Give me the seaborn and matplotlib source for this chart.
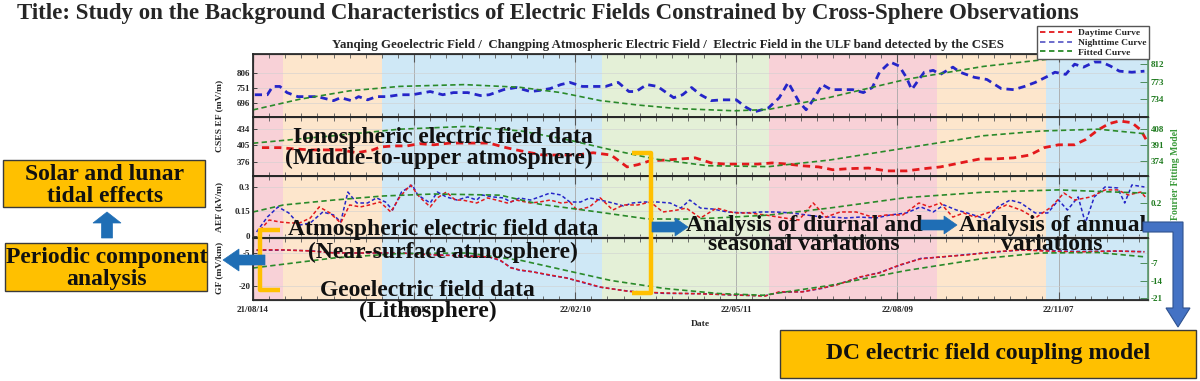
import numpy as np
import matplotlib
matplotlib.use('Agg')
import matplotlib.pyplot as plt
from matplotlib.patches import Rectangle, FancyArrow, Polygon
from matplotlib.lines import Line2D
import seaborn as sns

# ── Data ─────────────────────────────────────────────────────
# x is days since 2021-08-14
tick_days = [0, 90, 180, 270, 360, 450]
tick_labels = ['21/08/14', '21/11/12', '22/02/10', '22/05/11', '22/08/09', '22/11/07']

season_edges = [0, 17, 72, 195, 288, 382, 443, 500]
season_names = ['summer', 'autumn', 'winter', 'spring', 'summer', 'autumn', 'winter']

# CSES EF, nighttime (mV/m)
cses_night_days = [1, 8, 11, 15, 19, 25, 30, 36, 45, 49, 55, 59, 64, 69, 75, 82, 89, 99, 106, 112,
                   120, 127, 132, 140, 147, 155, 160, 166, 172, 177, 184, 190, 197, 204, 210, 214, 220, 226, 235, 240,
                   245, 250, 256, 262, 270, 275, 280, 288, 294, 299, 305, 309, 313, 318, 323, 331, 335, 341, 346, 350,
                   356, 361, 365, 368, 372, 375, 380, 384, 391, 395, 403, 410, 418, 425, 431, 437, 444, 448, 454, 459,
                   464, 470, 474, 479, 484, 491, 498]
cses_night = [726, 726, 757, 757, 734, 719, 719, 719, 704, 715, 704, 719, 707, 719, 719, 726, 726, 738, 726, 734,
              734, 723, 726, 745, 753, 738, 742, 749, 764, 772, 757, 757, 757, 772, 738, 738, 764, 757, 715, 726,
              753, 726, 704, 707, 707, 681, 662, 677, 715, 772, 700, 670, 707, 764, 745, 745, 745, 734, 753, 810,
              848, 833, 791, 745, 783, 810, 817, 802, 829, 810, 791, 783, 749, 745, 757, 772, 795, 810, 802, 840,
              829, 848, 848, 833, 814, 810, 814]

# CSES EF, daytime (mV/m)
cses_day_days = [5, 15, 22, 32, 41, 49, 58, 67, 71, 78, 86, 93, 101, 110, 117, 125, 132, 140, 147, 155,
                 162, 172, 181, 190, 200, 209, 215, 222, 230, 239, 247, 256, 264, 273, 282, 290, 299, 307, 316, 324,
                 333, 344, 354, 365, 375, 384, 395, 406, 414, 425, 434, 442, 450, 459, 465, 472, 478, 484, 491, 496,
                 499]
cses_day = [401, 401, 399, 397, 397, 397, 392, 397, 402, 404, 404, 408, 406, 409, 409, 409, 409, 402, 397, 392,
            388, 388, 388, 392, 388, 367, 371, 378, 379, 381, 383, 374, 372, 372, 372, 374, 372, 369, 367, 362,
            364, 365, 360, 360, 364, 367, 374, 381, 381, 383, 388, 401, 406, 406, 415, 432, 443, 448, 445, 432,
            415]

# AEF (kV/m)
aef_night_days = [2, 8, 14, 20, 26, 32, 39, 45, 49, 53, 58, 64, 69, 74, 78, 83, 89, 92, 99, 103,
                  108, 114, 120, 125, 128, 134, 140, 144, 149, 155, 160, 166, 172, 177, 183, 188, 194, 201, 207, 212,
                  218, 226, 233, 239, 244, 250, 257, 265, 275, 284, 292, 301, 309, 318, 324, 331, 339, 348, 356, 365,
                  373, 380, 386, 393, 399, 406, 410, 416, 423, 429, 437, 444, 450, 455, 461, 465, 470, 476, 483, 487,
                  491, 498]
aef_night = [0.025, 0.116, 0.178, 0.141, 0.067, 0.080, 0.147, 0.129, 0.086, 0.269,
             0.202, 0.202, 0.233, 0.208, 0.159, 0.269, 0.312, 0.251, 0.202, 0.269,
             0.239, 0.220, 0.239, 0.220, 0.251, 0.239, 0.233, 0.208, 0.233, 0.220,
             0.239, 0.263, 0.251, 0.208, 0.208, 0.233, 0.220, 0.202, 0.184, 0.202,
             0.208, 0.208, 0.202, 0.171, 0.220, 0.171, 0.165, 0.147, 0.141, 0.147,
             0.147, 0.141, 0.129, 0.116, 0.116, 0.110, 0.116, 0.110, 0.129, 0.141,
             0.178, 0.147, 0.190, 0.159, 0.141, 0.116, 0.098, 0.178, 0.220, 0.202,
             0.141, 0.141, 0.220, 0.159, 0.239, 0.080, 0.239, 0.300, 0.294, 0.202,
             0.312, 0.300]
aef_day_days = [4, 9, 15, 21, 26, 32, 37, 43, 49, 54, 60, 65, 71, 77, 82, 88, 93, 99, 103, 108,
                113, 117, 125, 131, 136, 142, 147, 155, 160, 166, 172, 177, 181, 188, 194, 201, 207, 215, 222, 229,
                237, 242, 250, 259, 269, 277, 286, 297, 305, 313, 320, 328, 337, 346, 354, 363, 372, 378, 384, 391,
                397, 403, 412, 421, 429, 437, 446, 453, 459, 468, 476, 483, 489, 496, 499]
aef_day = [0.037, 0.098, 0.086, 0.080, 0.080, 0.110, 0.178, 0.141, 0.080, 0.190,
           0.178, 0.190, 0.208, 0.147, 0.239, 0.312, 0.239, 0.178, 0.233, 0.269,
           0.220, 0.220, 0.202, 0.233, 0.220, 0.202, 0.220, 0.202, 0.208, 0.220,
           0.202, 0.208, 0.159, 0.178, 0.233, 0.159, 0.190, 0.190, 0.208, 0.147,
           0.159, 0.171, 0.110, 0.171, 0.141, 0.141, 0.129, 0.110, 0.098, 0.202,
           0.116, 0.147, 0.147, 0.116, 0.129, 0.129, 0.202, 0.178, 0.202, 0.116,
           0.141, 0.116, 0.147, 0.190, 0.159, 0.110, 0.178, 0.263, 0.220, 0.239,
           0.282, 0.282, 0.251, 0.269, 0.233]

# GF (mV/km)
gf_days = [2, 17, 32, 45, 64, 82, 101, 120, 132, 138, 144, 149, 156, 166, 175, 184, 194, 210, 230, 250,
           270, 286, 294, 307, 318, 326, 339, 350, 361, 373, 384, 399, 414, 429, 442, 461, 483, 498]
gf_day = [-3.6, -3.6, -4.1, -5.0, -5.0, -5.0, -5.9, -6.4, -6.8, -8.2, -11.8, -12.7, -13.6, -15.0, -16.4, -18.2,
          -20.5, -22.5, -23.2, -23.6, -24.1, -24.6, -22.7, -22.7, -20.9, -19.6, -15.9, -14.1, -10.5, -7.7,
          -6.8, -5.9, -4.5, -3.6, -4.1, -4.5, -4.1, -4.5]
gf_night = [-3.8, -3.7, -4.0, -4.9, -5.1, -5.0, -5.8, -6.3, -6.9, -8.4, -11.6, -12.9, -13.5, -15.2, -16.3, -18.4,
            -20.6, -22.4, -23.4, -23.5, -24.2, -24.5, -22.9, -22.6, -21.1, -19.4, -16.1, -13.9, -10.7, -7.5,
            -6.9, -5.7, -4.6, -3.7, -3.9, -4.3, -4.2, -4.4]

# Fourier fitted curves (right axes)
fit_cses_n_days = [0, 26, 54, 82, 118, 149, 172, 194, 215, 237, 269, 288, 322, 365, 408, 450, 475, 499]
fit_cses_n = [709, 733, 752, 762, 766, 760, 748, 730, 720, 712, 707, 710, 737, 778, 807, 826, 829, 823]
fit_cses_d_days = [0, 45, 82, 120, 150, 175, 200, 225, 254, 288, 322, 365, 408, 440, 472, 499]
fit_cses_d = [393, 401, 408, 411, 406, 397, 386, 376, 369, 368, 375, 388, 401, 406, 408, 403]
fit_aef_days = [0, 17, 45, 73, 101, 138, 160, 194, 220, 240, 258, 288, 322, 365, 408, 450, 499]
fit_aef = [0.147, 0.190, 0.220, 0.245, 0.257, 0.250, 0.195, 0.145, 0.105, 0.103, 0.110, 0.128, 0.171, 0.235,
           0.268, 0.282, 0.262]
fit_gf_days = [0, 45, 82, 120, 150, 175, 200, 230, 260, 285, 322, 365, 408, 440, 472, 499]
fit_gf = [-9.0, -5.0, -3.2, -3.0, -6.0, -10.0, -14.0, -17.2, -19.2, -19.9, -16.0, -10.0, -5.2, -3.0, -2.8, -4.6]

# ── Style ────────────────────────────────────────────────────
sns.set_theme(style='white')
plt.rcParams['font.family'] = ['Liberation Serif', 'DejaVu Serif']
plt.rcParams['font.weight'] = 'bold'

RED = '#E3191C'
BLUE = '#2525C8'
GREEN = '#2A8A2A'
RGREEN = '#1E7A1E'
SEASON_COLORS = {'summer': '#F8D1D7', 'autumn': '#FDE6CC', 'winter': '#CFE8F6', 'spring': '#E4F0D7'}
ORANGE = '#FFC000'
ARROW = '#1F6EB5'

W, H = 1200, 381
fig = plt.figure(figsize=(12, 3.81), dpi=100)


def px_box(top, bottom, left=253, right=1148):
    return [left / W, 1 - bottom / H, (right - left) / W, (bottom - top) / H]


edges = [54, 117, 176, 238, 300]
axes = [fig.add_axes(px_box(edges[i], edges[i + 1])) for i in range(4)]
twins = [ax.twinx() for ax in axes]

left_lims = [(643, 878), (351, 455), (-0.012, 0.367), (-26.4, 1.8)]
left_ticks = [[696, 751, 806], [376, 405, 434], [0, 0.15, 0.3], [-20, -5]]
left_tlabels = [['696', '751', '806'], ['376', '405', '434'], ['0', '0.15', '0.3'], ['-20', '-5']]
right_lims = [(693, 835), (358, 421), (-0.012, 0.367), (-21.8, 3)]
right_ticks = [[734, 773, 812], [374, 391, 408], [0.2], [-21, -14, -7]]
right_tlabels = [['734', '773', '812'], ['374', '391', '408'], ['0.2'], ['-21', '-14', '-7']]

thick = dict(linewidth=2.0, linestyle=(0, (2.6, 1.8)))
thin = dict(linewidth=1.1, linestyle=(0, (2.4, 1.6)))
fitk = dict(linewidth=1.2, linestyle=(0, (3.2, 2.0)))

# — Panel curves ————————————————————————————————
sns.lineplot(x=cses_night_days, y=cses_night, ax=axes[0], color=BLUE, **thick)
sns.lineplot(x=cses_day_days, y=cses_day, ax=axes[1], color=RED, **thick)
sns.lineplot(x=aef_night_days, y=aef_night, ax=axes[2], color=BLUE, **thin)
sns.lineplot(x=aef_day_days, y=aef_day, ax=axes[2], color=RED, **thin)
sns.lineplot(x=gf_days, y=gf_night, ax=axes[3], color=BLUE, **thin)
sns.lineplot(x=gf_days, y=gf_day, ax=axes[3], color=RED, **thin)

sns.lineplot(x=fit_cses_n_days, y=fit_cses_n, ax=twins[0], color=GREEN, **fitk)
sns.lineplot(x=fit_cses_d_days, y=fit_cses_d, ax=twins[1], color=GREEN, **fitk)
sns.lineplot(x=fit_aef_days, y=fit_aef, ax=twins[2], color=GREEN, **fitk)
sns.lineplot(x=fit_gf_days, y=fit_gf, ax=twins[3], color=GREEN, **fitk)

for i, (ax, tw) in enumerate(zip(axes, twins)):
    for s in range(len(season_names)):
        ax.axvspan(season_edges[s], season_edges[s + 1], color=SEASON_COLORS[season_names[s]],
                   lw=0, zorder=0)
    ax.set_xlim(0, 500)
    ax.set_ylim(*left_lims[i])
    ax.set_yticks(left_ticks[i])
    ax.set_yticklabels(left_tlabels[i], fontsize=6.5, fontweight='bold')
    ax.set_xticks(tick_days)
    ax.set_xticks(np.arange(0, 501, 9), minor=True)
    ax.set_xticklabels(tick_labels if i == 3 else [], fontsize=6.5, fontweight='bold')
    ax.tick_params(axis='x', which='major', direction='in', length=6, width=0.8, color='#555555',
                   top=True, bottom=True, pad=4)
    ax.tick_params(axis='x', which='minor', direction='in', length=3, width=0.6, color='#555555',
                   top=True, bottom=True)
    ax.tick_params(axis='y', direction='in', length=3, width=0.6, left=True, pad=2)
    ax.grid(axis='x', which='major', color='#A8A8A8', lw=0.6)
    ax.grid(axis='y', color='#D0D0D0', lw=0.4)
    ax.set_axisbelow(True)
    for sp in ax.spines.values():
        sp.set_color('#6A6A6A')
        sp.set_linewidth(0.9)

    tw.set_xlim(0, 500)
    tw.set_ylim(*right_lims[i])
    tw.set_yticks(right_ticks[i])
    tw.set_yticklabels(right_tlabels[i], fontsize=6.5, fontweight='bold', color=RGREEN)
    tw.tick_params(axis='y', direction='in', length=6, width=0.7, color='#4C8C5C', pad=2)
    tw.spines['right'].set_color('#5E9C6E')
    tw.spines['right'].set_linewidth(1.2)
    tw.grid(False)
    for ax_ in (ax, tw):
        ax_.set_xlabel('')
        ax_.set_ylabel('')

# ── Overlay in pixel coordinates ─────────────────────────────
ov = fig.add_axes([0, 0, 1, 1])
ov.set_xlim(0, W)
ov.set_ylim(H, 0)
ov.axis('off')

ov.text(17, 13, 'Title: Study on the Background Characteristics of Electric Fields '
        'Constrained by Cross-Sphere Observations', ha='left', va='center',
        fontsize=16.5, fontweight='bold')
ov.text(668, 45, 'Yanqing Geoelectric Field /  Changping Atmospheric Electric Field /  '
        'Electric Field in the ULF band detected by the CSES', ha='center', va='center',
        fontsize=9.3, fontweight='bold')

ov.text(219, 116, 'CSES EF (mV/m)', rotation=90, ha='center', va='center', fontsize=6.8)
ov.text(219, 207, 'AEF (kV/m)', rotation=90, ha='center', va='center', fontsize=6.8)
ov.text(219, 268, 'GF (mV/km)', rotation=90, ha='center', va='center', fontsize=6.8)
ov.text(1176, 174, 'Fourier Fitting Model', rotation=90, ha='center', va='center',
        fontsize=7, color='#3A9A3A')
ov.text(700, 324, 'Date', ha='center', va='center', fontsize=6.8)

# legend
handles = [Line2D([], [], color=RED, lw=1.3, ls=(0, (3, 2))),
           Line2D([], [], color='#6060C8', lw=1.3, ls=(0, (3, 2))),
           Line2D([], [], color=GREEN, lw=1.3, ls=(0, (3, 2)))]
fig.legend(handles, ['Daytime Curve', 'Nighttime Curve', 'Fitted Curve'], loc='upper right',
           bbox_to_anchor=(1149 / W, 1 - 26 / H), prop={'size': 6.8, 'weight': 'bold'},
           frameon=True, fancybox=False, edgecolor='#555555', framealpha=1,
           handlelength=3.4, borderpad=0.3, labelspacing=0.1, handletextpad=0.6, borderaxespad=0)

# big annotation text
big = dict(ha='center', va='center', fontsize=17, fontweight='bold', color='#111111')
for x, y, s in [(443, 138, 'Ionospheric electric field data'),
                (439, 158, '(Middle-to-upper atmosphere)'),
                (443, 229, 'Atmospheric electric field data'),
                (443, 252, '(Near-surface atmosphere)'),
                (427, 291, 'Geoelectric field data'),
                (428, 311, '(Lithosphere)'),
                (804, 225, 'Analysis of diurnal and'),
                (804, 245, 'seasonal variations'),
                (1053, 226, 'Analysis of annual'),
                (1052, 245, 'variations')]:
    ov.text(x, y, s, **big)

# orange boxes
for x0, y0, x1, y1 in [(3, 160, 205, 207), (5, 243, 207, 291), (780, 330, 1196, 378)]:
    ov.add_patch(Rectangle((x0, y0), x1 - x0, y1 - y0, fc=ORANGE, ec='#3A3A3A', lw=1.0, zorder=2))
for x, y, s in [(105, 175, 'Solar and lunar'), (105, 197, 'tidal effects'),
                (107, 258, 'Periodic component'), (107, 280, 'analysis'),
                (988, 353, 'DC electric field coupling model')]:
    ov.text(x, y, s, zorder=3, **big)

# orange brackets
ov.plot([280, 260, 260, 280], [230, 230, 290, 290], color=ORANGE, lw=3.2, solid_capstyle='butt')
ov.plot([632, 651, 651, 632], [153, 153, 293, 293], color=ORANGE, lw=3.2, solid_capstyle='butt')

# blue block arrows
for x, y, dx, dy, w, hw, hl in [(107, 238, 0, -26, 11, 28, 11),
                                (265, 260, -42, 0, 10, 22, 16),
                                (652, 227, 36, 0, 10, 18, 13),
                                (921, 225, 36, 0, 10, 18, 13)]:
    ov.add_patch(FancyArrow(x, y, dx, dy, width=w, head_width=hw, head_length=hl,
                            length_includes_head=True, fc=ARROW, ec=ARROW, lw=0.5, zorder=4))

# elbow connector to the DC model box
ov.add_patch(Polygon([(1143, 222), (1183, 222), (1183, 308), (1190, 308), (1178, 327),
                      (1166, 308), (1173, 308), (1173, 232), (1143, 232)],
                     closed=True, fc='#4472C4', ec='#2F528F', lw=0.8, zorder=4))

fig.savefig('out.png', dpi=100)
